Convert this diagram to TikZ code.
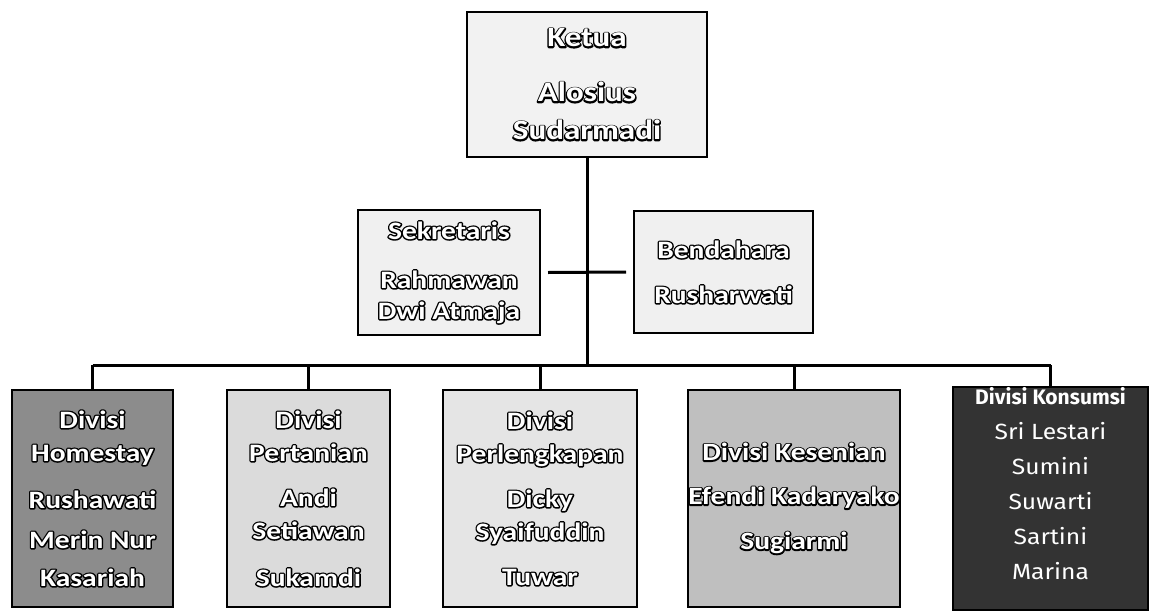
\documentclass[tikz,border=0pt]{standalone}
\usepackage{fontspec}
\setmainfont{Carlito}[FakeStretch=1.18]
\newfontfamily\konsfont{Fira Sans}[FakeStretch=1.12]
\newfontfamily\konsbold{Fira Sans Bold}
\newcommand\olt[1]{\rlap{\special{pdf:literal direct 0 0 0 RG 2.8 w 1 j 1 Tr}#1\special{pdf:literal direct 0 Tr}}#1}
\begin{document}
\begin{tikzpicture}[x=1pt,y=-1pt,
  orgbox/.style={draw=black, line width=2pt, align=center, text=white, inner sep=0pt},
  topfont/.style={font=\bfseries\fontsize{28}{38}\selectfont},
  midfont/.style={font=\bfseries\fontsize{25}{31}\selectfont},
  botfont/.style={font=\bfseries\fontsize{25}{33}\selectfont},
  konsfont/.style={font=\konsfont\fontsize{22}{35}\selectfont},
  conn/.style={draw=black, line width=3pt}]
\useasboundingbox (0,0) rectangle (1151,613);
\fill[white] (0,0) rectangle (1151,613);

\node[orgbox, topfont, fill=black!5, minimum width=240pt, minimum height=145pt] (ketua) at (587,84.5)
  {\olt{Ketua}\\[17pt]\olt{Alosius}\\\olt{Sudarmadi}};

\node[orgbox, midfont, fill=black!6, minimum width=182pt, minimum height=125pt] (sek) at (449,272.5)
  {\olt{Sekretaris}\\[18pt]\olt{Rahmawan}\\\olt{Dwi Atmaja}};
\node[orgbox, midfont, fill=black!6, minimum width=179pt, minimum height=122pt] (ben) at (723.5,272)
  {\olt{Bendahara}\\[14pt]\olt{Rusharwati}};

\node[orgbox, botfont, fill=black!45, minimum width=161pt, minimum height=217pt] (d1) at (92.5,498.5)
  {\olt{Divisi}\\\olt{Homestay}\\[14pt]\olt{Rushawati}\\[7pt]\olt{Merin Nur}\\[5pt]\olt{Kasariah}};
\node[orgbox, botfont, fill=black!14, minimum width=163pt, minimum height=217pt] (d2) at (308.5,498.5)
  {\olt{Divisi}\\\olt{Pertanian}\\[12pt]\olt{Andi}\\\olt{Setiawan}\\[14pt]\olt{Sukamdi}};
\node[orgbox, botfont, fill=black!10, minimum width=194pt, minimum height=217pt] (d3) at (540,498.5)
  {\olt{Divisi}\\\olt{Perlengkapan}\\[12pt]\olt{Dicky}\\\olt{Syaifuddin}\\[12pt]\olt{Tuwar}};
\node[orgbox, botfont, fill=black!25, minimum width=212pt, minimum height=217pt] (d4) at (794,498.5)
  {\olt{Divisi Kesenian}\\[11pt]\olt{Efendi Kadaryako}\\[12pt]\olt{Sugiarmi}};
\node[orgbox, konsfont, fill=black!80, minimum width=195pt, minimum height=217pt] (d5) at (1050.5,498.5)
  {{\konsbold\fontsize{21}{35}\selectfont Divisi Konsumsi}\\Sri Lestari\\Sumini\\Suwarti\\Sartini\\Marina\\[-4pt]\mbox{}};

\coordinate (bus) at (587,365);
\draw[conn] (ketua.south) -- (bus);
\draw[conn] (d1.north |- bus) -- (d5.north |- bus);
\foreach \d in {d1,d2,d3,d4,d5}
  \draw[conn] (\d.north |- bus) -- (\d.north);
\draw[conn] ([xshift=7pt]sek.east) -- ([xshift=-7pt]ben.west);
\end{tikzpicture}
\end{document}
